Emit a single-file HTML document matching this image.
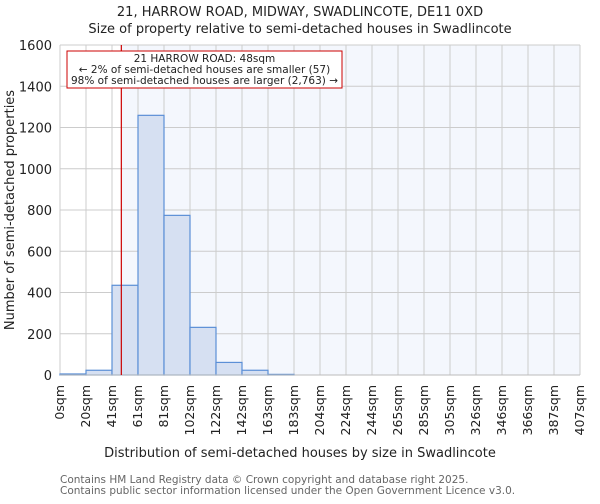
<!DOCTYPE html>
<html><head><meta charset="utf-8"><style>
body{margin:0;background:#fff;font-family:"DejaVu Sans","Liberation Sans",sans-serif}
</style></head><body>
<svg id="c" width="600" height="500" xmlns="http://www.w3.org/2000/svg" font-family="DejaVu Sans, Liberation Sans, sans-serif">
<text x="300" y="16" text-anchor="middle" font-size="13" fill="#222">21, HARROW ROAD, MIDWAY, SWADLINCOTE, DE11 0XD</text>
<text x="300" y="33" text-anchor="middle" font-size="13" fill="#222">Size of property relative to semi-detached houses in Swadlincote</text>
<g id="plot"></g>
<text x="300" y="457" text-anchor="middle" font-size="13" fill="#222">Distribution of semi-detached houses by size in Swadlincote</text>
<text transform="translate(14,210) rotate(-90)" text-anchor="middle" font-size="13" fill="#222">Number of semi-detached properties</text>
<text x="60" y="483" font-size="10.5" fill="#666">Contains HM Land Registry data © Crown copyright and database right 2025.</text>
<text x="60" y="494" font-size="10.5" fill="#666">Contains public sector information licensed under the Open Government Licence v3.0.</text>
</svg>
<script>
const categories=["0sqm","20sqm","41sqm","61sqm","81sqm","102sqm","122sqm","142sqm","163sqm","183sqm","204sqm","224sqm","244sqm","265sqm","285sqm","305sqm","326sqm","346sqm","366sqm","387sqm","407sqm"];
const counts=[5,23,435,1259,774,231,61,23,3,0,0,0,0,0,0,0,0,0,0,0];
const yTicks=[0,200,400,600,800,1000,1200,1400,1600];
const propertySize=48;
const binMax=407;
const NS="http://www.w3.org/2000/svg";
const L=60,R=580,T=45,B=375,YMAX=1600;
const nb=counts.length;
const xs=i=>L+(R-L)*i/nb;
const xv=v=>L+(R-L)*v/binMax;
const ys=v=>B-(B-T)*v/YMAX;
const g=document.getElementById('plot');
function mk(t,a){const e=document.createElementNS(NS,t);for(const k in a)e.setAttribute(k,a[k]);g.appendChild(e);return e;}
const px=xv(propertySize);
let e=mk('rect',{x:px,y:T,width:R-px,height:B-T,fill:'#f4f7fd'});


for(let i=0;i<=nb;i++){e=mk('line',{x1:xs(i),x2:xs(i),y1:T,y2:B,stroke:'#ccc','stroke-width':1});

}
yTicks.forEach(v=>{e=mk('line',{x1:L,x2:R,y1:ys(v),y2:ys(v),stroke:'#ccc','stroke-width':1});


const t=mk('text',{x:L-8,y:ys(v)+5,'text-anchor':'end','font-size':13,fill:'#222'});t.textContent=v;

});
counts.forEach((c,i)=>{if(c<=0)return;e=mk('rect',{x:xs(i),y:ys(c),width:xs(i+1)-xs(i),height:B-ys(c),fill:'#d6e0f2',stroke:'#5b8fd6','stroke-width':1.2});

});
e=mk('line',{x1:L,x2:R,y1:B,y2:B,stroke:'#bbb','stroke-width':1});


categories.forEach((c,i)=>{const x=xs(i);const t=mk('text',{transform:`translate(${x+4},${B+10}) rotate(-90)`,'text-anchor':'end','font-size':12.5,fill:'#222'});t.textContent=c;

});
e=mk('line',{x1:px,x2:px,y1:T,y2:B,stroke:'#c00','stroke-width':1.2});


e=mk('rect',{x:67,y:51,width:275,height:37,fill:'#fff',stroke:'#c00','stroke-width':1});


["21 HARROW ROAD: 48sqm","← 2% of semi-detached houses are smaller (57)","98% of semi-detached houses are larger (2,763) →"].forEach((s,k)=>{const t=mk('text',{x:204.5,y:62+k*11,'text-anchor':'middle','font-size':10.5,fill:'#222'});t.textContent=s;

});
</script>
</body></html>
